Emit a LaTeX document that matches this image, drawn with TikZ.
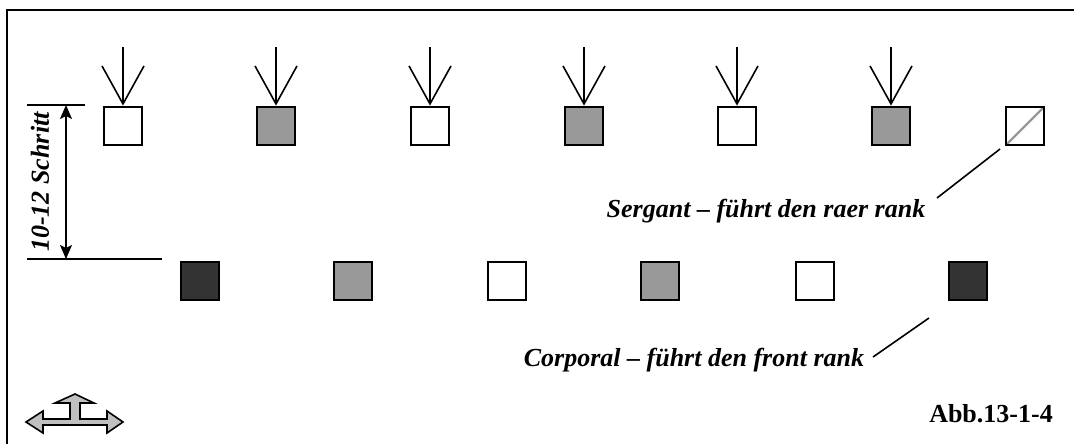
\documentclass[tikz,border=0pt]{standalone}
\usepackage{fontspec}
\setmainfont{Liberation Serif}
\usetikzlibrary{arrows.meta}
\definecolor{midgray}{HTML}{999999}
\definecolor{darkgray}{HTML}{333333}
\definecolor{lightgray}{HTML}{C0C0C0}
\tikzset{
  man/.style={draw,line width=1.4pt,minimum size=19pt,inner sep=0pt},
  feed/.style={line width=0.8pt,-{Straight Barb[length=19pt,width=21pt,line width=0.8pt]}},
  lbl/.style={font=\fontsize{13}{15}\selectfont\bfseries\itshape}
}
\begin{document}
\begin{tikzpicture}[x=0.5pt,y=-0.5pt]
\useasboundingbox (0,0) rectangle (1074,444);
\draw[line width=1pt] (7,444)--(7,10)--(1074,10);
% raer rank
\foreach \n/\x/\c in {1/123/white,2/276/midgray,3/430/white,4/584/midgray,5/737/white,6/891/midgray}
  {\node[man,fill=\c] (r\n) at (\x,126) {};
   \coordinate (t\n) at (\x,47);
   \draw[feed] (t\n)--(r\n);}
\node[man,fill=white,path picture={\draw[midgray,line width=1.2pt]
  (path picture bounding box.south west)--(path picture bounding box.north east);}] (r7) at (1025,126) {};
% front rank
\foreach \n/\x/\c in {1/200/darkgray,2/353/midgray,3/507/white,4/660/midgray,5/815/white,6/968/darkgray}
  {\node[man,fill=\c] (f\n) at (\x,281) {};}
% distance
\coordinate (d1) at (27,105);
\coordinate (d2) at (85,105);
\coordinate (d3) at (27,259);
\coordinate (d4) at (162,259);
\draw[line width=0.8pt] (d1)--(d2);
\draw[line width=0.8pt] (d3)--(d4);
\draw[line width=0.8pt,{Stealth[length=7pt,width=6pt,inset=1.5pt]}-{Stealth[length=7pt,width=6pt,inset=1.5pt]}]
  (66,105)--(66,259);
\node[lbl,rotate=90] (dist) at (40,182) {10-12 Schritt};
% labels
\node[lbl] (sgt) at (766,211) {Sergant – führt den raer rank};
\coordinate (s1) at (937,198);
\coordinate (s2) at (1000,149);
\draw[line width=0.8pt] (s1)--(s2);
\node[lbl] (cpl) at (694,360) {Corporal – führt den front rank};
\coordinate (c1) at (873,357);
\coordinate (c2) at (929,318);
\draw[line width=0.8pt] (c1)--(c2);
\node[font=\fontsize{13}{15}\selectfont\bfseries] (abb) at (991,414) {Abb.13-1-4};
% direction
\draw[line width=0.8pt,fill=lightgray] (26,422)--(43,411)--(43,419)--(70,419)--(70,403)--(55,403)--(75,394)
  --(94,403)--(80,403)--(80,419)--(107,419)--(107,411)--(123,422)--(107,433)--(107,425)--(43,425)--(43,433)--cycle;
\end{tikzpicture}
\end{document}
